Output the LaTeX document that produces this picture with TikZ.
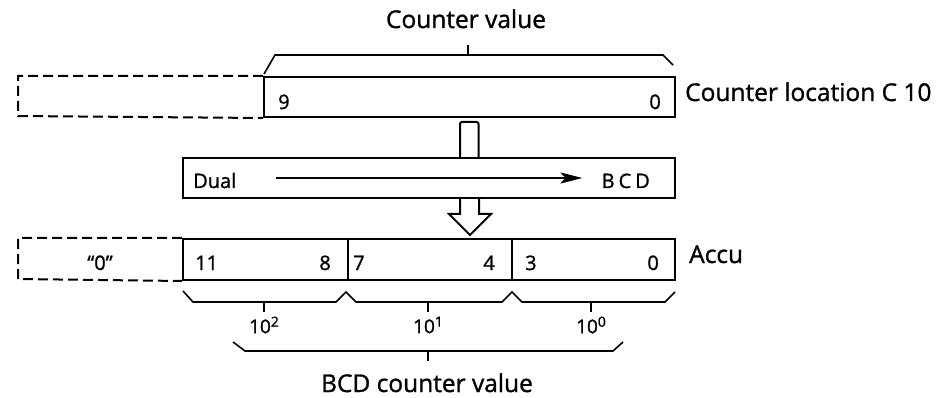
\documentclass[tikz,border=0pt]{standalone}
\usepackage{fontspec}
\setmainfont{Open Sans}[FakeBold=1.2]
\usetikzlibrary{arrows.meta}
\newcommand{\pw}[1]{\raisebox{6.5pt}{\fontsize{14}{16}\selectfont #1}}
\tikzset{
  box/.style={draw, line width=2pt, rectangle, inner sep=0pt, anchor=north west},
  hollow/.style={draw, line width=2pt, line join=miter},
  dashline/.style={line width=2pt, dash pattern=on 10pt off 5pt},
  brace/.style={line width=1.6pt},
  lbl/.style={font=\fontsize{24.5}{28}\selectfont, inner sep=0pt},
  num/.style={font=\fontsize{20}{24}\selectfont, inner sep=0pt},
  pow/.style={font=\fontsize{19}{22}\selectfont, inner sep=0pt},
}
\begin{document}
\begin{tikzpicture}[x=1pt,y=-1pt]
\useasboundingbox (0,0) rectangle (945,398);
% registers
\node[box, minimum width=411pt, minimum height=40pt] (creg) at (263,76) {};
\node[box, minimum width=492pt, minimum height=40pt] (dualbox) at (182,157) {};
\node[box, minimum width=165pt, minimum height=41pt] (acc2) at (182,238) {};
\node[box, minimum width=164pt, minimum height=41pt] (acc1) at (347,238) {};
\node[box, minimum width=163pt, minimum height=41pt] (acc0) at (511,238) {};
% dashed extensions
\draw[dashline] (creg.north west) -- ++(-245,0) -- ++(0,40) -- (creg.south west);
\draw[dashline] (acc2.north west) -- ++(-164,0) -- ++(0,41) -- (acc2.south west);
% texts in registers
\node[num, anchor=base west] (c9) at (278,109) {9};
\node[num, anchor=base east] (c0) at (661,109) {0};
\node[num, anchor=base west] (dual) at (193,188) {Dual};
\node[num, anchor=base east] (bcd) at (650,188) {B\kern4ptC\kern4ptD};
\node[num, anchor=base west] (a11) at (195,270) {11};
\node[num, anchor=base east] (a8) at (331,270) {8};
\node[num, anchor=base west] (a7) at (353,270) {7};
\node[num, anchor=base east] (a4) at (495,270) {4};
\node[num, anchor=base west] (a3) at (525,270) {3};
\node[num, anchor=base east] (a0) at (659,270) {0};
\node[num, anchor=base] (zero) at (100,270) {“0”};
% outer labels
\node[lbl, anchor=base] (cval) at (466,28) {Counter value};
\node[lbl, anchor=base west] (cloc) at (685,101) {Counter location C 10};
\node[lbl, anchor=base west] (accu) at (689,263) {Accu};
\node[pow] (p2) at (264,325) {10\pw{2}};
\node[pow] (p1) at (428,325) {10\pw{1}};
\node[pow] (p0) at (591,325) {10\pw{0}};
\node[lbl, anchor=base] (bcdval) at (427,392) {BCD counter value};
% conversion arrow
\draw[line width=1.6pt, -{Stealth[length=22pt, width=11pt, inset=5pt]}]
  ([xshift=40pt]dual.east |- dualbox.center) -- ([xshift=-19pt]bcd.west |- dualbox.center);
% hollow arrow 1 (counter -> conversion)
\draw[hollow, rounded corners=2pt]
  ([xshift=-9.5pt]creg.south |- dualbox.north) -- ([xshift=-9.5pt, yshift=-4pt]creg.south)
  -- ([xshift=9pt, yshift=-4pt]creg.south) -- ([xshift=9pt]creg.south |- dualbox.north);
% hollow arrow 2 (conversion -> accu)
\draw[hollow]
  ([xshift=-9.5pt]creg.south |- dualbox.south) -- ++(0,15) -- ++(-11,0) -- ++(21,21)
  -- ++(21,-21) -- ++(-12,0) -- ++(0,-15);
% top brace
\draw[brace] (264,74) -- (275,55) -- (663,55) -- (673,65);
\draw[brace] (468,55) -- (468,45);
% lower braces
\draw[brace] (183,291) -- (193,302) -- (336,302) -- (346,292) -- (356,302)
  -- (502,302) -- (512,292) -- (522,302) -- (665,302) -- (675,292);
\draw[brace] (264,302) -- (264,312);
\draw[brace] (428,302) -- (428,312);
\draw[brace] (591,302) -- (591,312);
% bottom brace
\draw[brace] (233,342) -- (245,351) -- (613,351) -- (623,342);
\draw[brace] (428,351) -- (428,361);
\end{tikzpicture}
\end{document}
